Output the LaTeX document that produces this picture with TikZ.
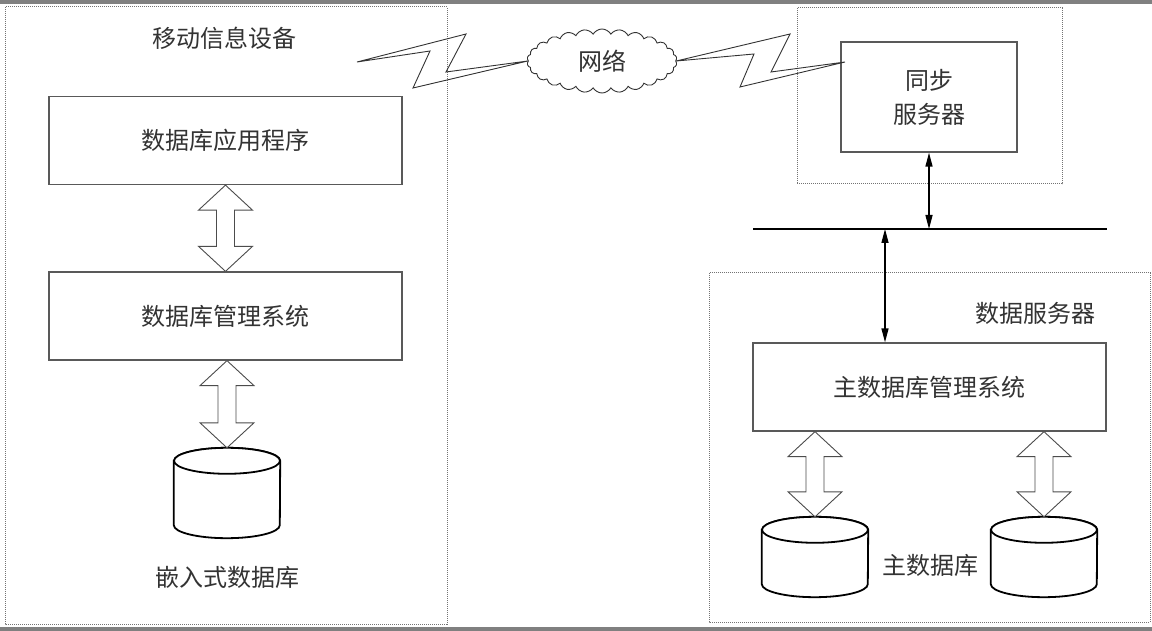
\documentclass[tikz,border=0pt]{standalone}
\usepackage{fontspec}
\newfontfamily\cjk{Noto Sans CJK SC}
\usetikzlibrary{shapes.geometric,shapes.symbols,arrows.meta,calc}
\newcommand\hollowarrow[2]{%
  \draw[hollow] let \p1=(#1), \p2=(#2) in
    (\x2,\y1) -- (\x2-27pt,\y1-25pt) -- (\x2-9pt,\y1-25pt) -- (\x2-9pt,\y2+25pt)
    -- (\x2-27pt,\y2+25pt) -- (\x2,\y2) -- (\x2+27pt,\y2+25pt) -- (\x2+9pt,\y2+25pt)
    -- (\x2+9pt,\y1-25pt) -- (\x2+27pt,\y1-25pt) -- cycle;}
% cylinder drawn inside a named node: #1 name
\newcommand\dbcylinder[1]{%
  \filldraw[cylline] let \p1=(#1.north west), \p2=(#1.south east) in
    (\x1,\y1-13pt) -- (\x1,\y2+13pt) arc[start angle=180,end angle=360,x radius=53pt,y radius=13pt]
    -- (\x2,\y1-13pt) arc[start angle=0,end angle=180,x radius=53pt,y radius=13pt] -- cycle;
  \draw[cylline] let \p1=(#1.north) in (\x1,\y1-13pt) ellipse[x radius=53pt,y radius=13pt];}
\begin{document}
\begin{tikzpicture}[x=1pt,y=-1pt,
  font=\cjk\fontsize{24}{34}\selectfont, text=black!80,
  box/.style={draw=black!65, line width=1.3pt, fill=white, minimum width=353pt, minimum height=88pt, inner sep=0pt, align=center},
  group/.style={draw=black!55, densely dotted, line width=1pt},
  hollow/.style={draw=black!70, line width=0.9pt, fill=white},
  cylbox/.style={minimum width=106pt, inner sep=0pt},
  cylline/.style={draw=black, line width=1.8pt, fill=white},
  link/.style={draw=black, line width=1.4pt, {Triangle[length=14pt,width=7pt]}-{Triangle[length=14pt,width=7pt]}},
  bolt/.style={draw=black!80, line width=0.9pt, line join=miter}]
\useasboundingbox (0,0) rectangle (1152,631);
\fill[white] (0,0) rectangle (1152,631);
\fill[black!50] (0,0) rectangle (1152,4);
\fill[black!50] (0,627) rectangle (1152,631);

% mobile device group
\draw[group] (5,7) rectangle (447,624);
\node (mobtitle) at (224,38) {移动信息设备};
\node[box] (app) at (225.5,140.5) {数据库应用程序};
\node[box] (dbms) at (225.5,316) {数据库管理系统};
\node[cylbox, minimum height=90pt] (edb) at (227,493) {};
\dbcylinder{edb}
\node (edblabel) at (227,577) {嵌入式数据库};
\hollowarrow{app.south}{dbms.north}
\hollowarrow{dbms.south}{edb.north}

% network
\node[cloud, draw=black!80, line width=0.9pt, cloud puffs=26, cloud puff arc=120, aspect=2.2, minimum width=150pt, minimum height=64pt, inner sep=0pt] (net) at (602,61) {网络};
\coordinate (boltA) at (357,62);
\coordinate (boltS) at (845,62);
\draw[bolt] (boltA) -- (466,34) -- (446,72) -- (net.west) -- (413,88) -- (430,51) -- cycle;

% sync server group
\draw[group] (797,8) rectangle (1062,184);
\node[box, minimum width=176pt, minimum height=110pt] (sync) at (929,97) {同步\\服务器};
\draw[bolt] (net.east) -- (790,34) -- (771,72) -- (boltS) -- (740,87) -- (754,54) -- cycle;

% bus
\coordinate (busL) at (753,229);
\coordinate (busR) at (1107,229);
\coordinate (tap) at (885,229);
\draw[line width=2.5pt, black] (busL) -- (busR);
\draw[link] (sync.south) -- (sync.south |- busL);

% data server group
\draw[group] (709,273) rectangle (1150,622);
\node (dstitle) at (1035,313) {数据服务器};
\node[box] (main) at (929.5,387) {主数据库管理系统};
\draw[link] (tap) -- (tap |- main.north);
\node[cylbox, minimum height=80pt] (mdb1) at (815,557) {};
\node[cylbox, minimum height=80pt] (mdb2) at (1044,557) {};
\dbcylinder{mdb1}
\dbcylinder{mdb2}
\node (mdblabel) at (930,565) {主数据库};
\hollowarrow{main.south}{mdb1.north}
\hollowarrow{main.south}{mdb2.north}
\end{tikzpicture}
\end{document}
